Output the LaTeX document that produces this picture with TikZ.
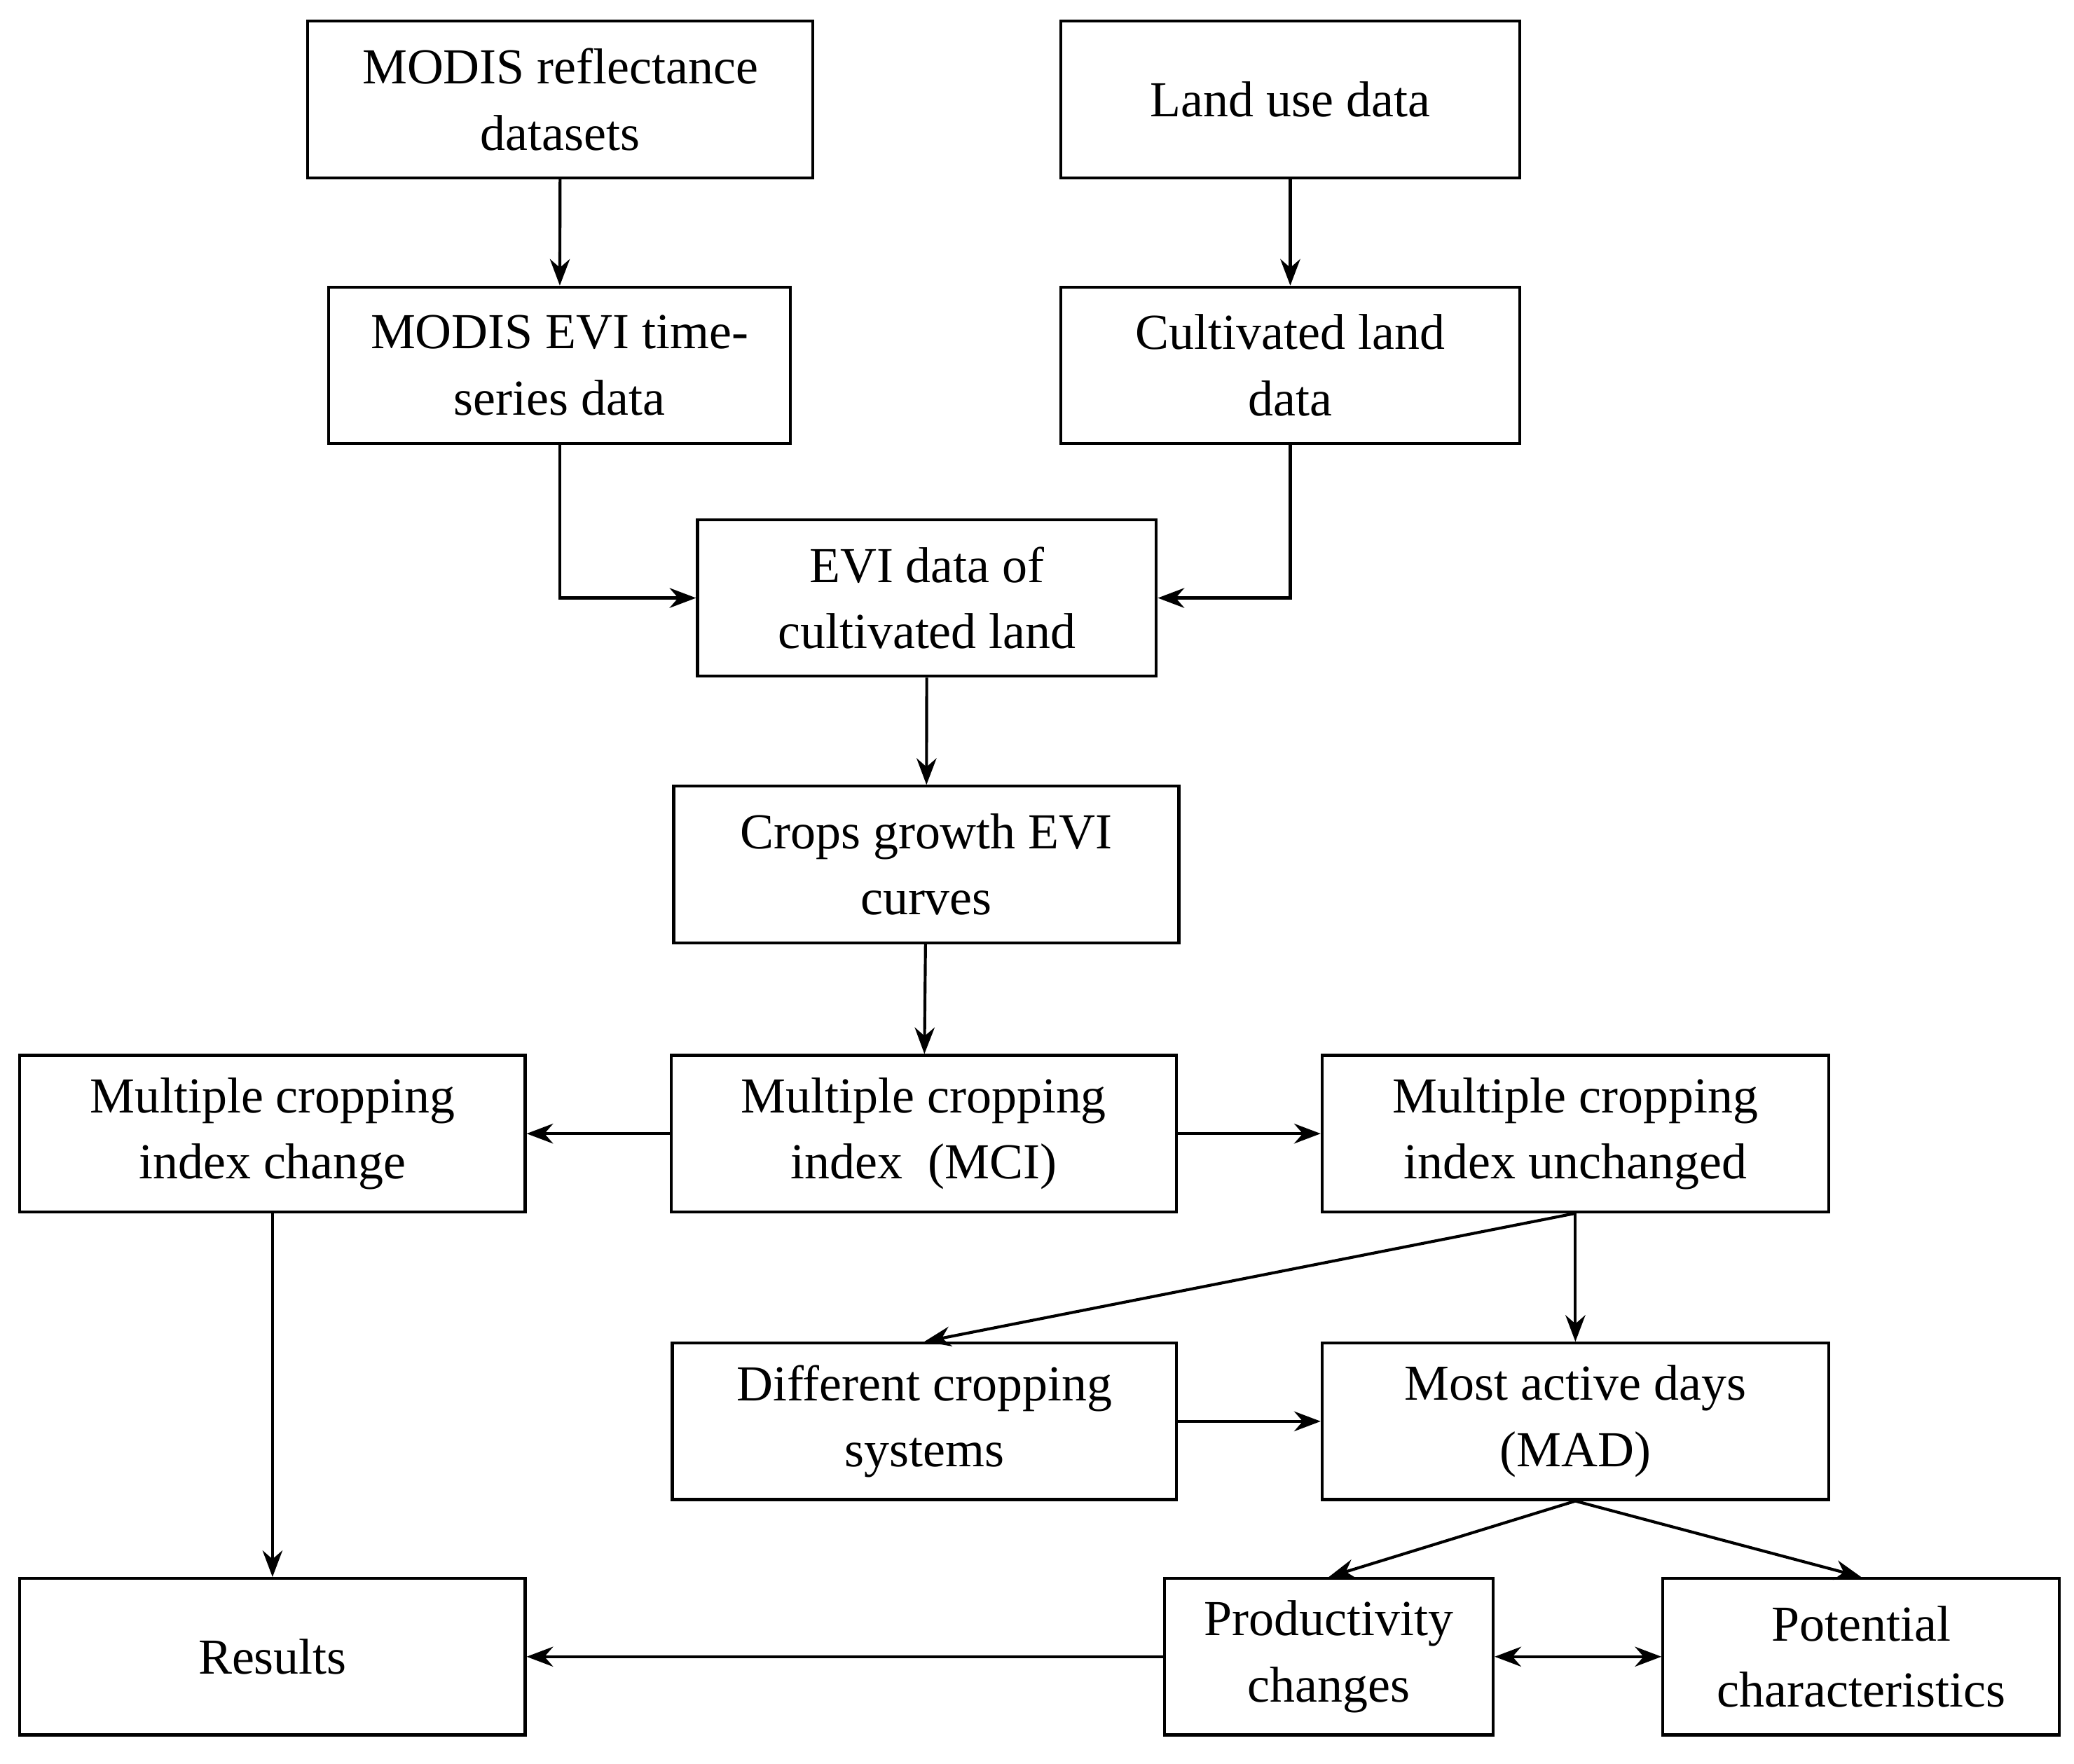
\documentclass[tikz,border=0pt]{standalone}
\usepackage{fontspec}
\setmainfont{Liberation Serif}
\usetikzlibrary{arrows.meta}
\begin{document}
\begin{tikzpicture}[x=1pt,y=-1pt,
  box/.style={draw,line width=2.2pt,minimum height=118pt,align=center,inner sep=2pt,
    font=\fontsize{38}{50}\selectfont},
  arr/.style={line width=2.2pt,-{Stealth[length=20pt,width=15pt]}},
  darr/.style={line width=2.2pt,{Stealth[length=20pt,width=15pt]}-{Stealth[length=20pt,width=15pt]}}]
\useasboundingbox (0,0) rectangle (1564,1330);
\node[box,minimum width=381pt] (A) at (422.5,75) {MODIS reflectance\\datasets};
\node[box,minimum width=346pt] (B) at (973,75) {Land use data};
\node[box,minimum width=348pt] (C) at (422,275.5) {MODIS EVI time-\\series data};
\node[box,minimum width=346pt] (D) at (973,275.5) {Cultivated land\\data};
\node[box,minimum width=346pt] (E) at (699,451) {EVI data of\\cultivated land};
\node[box,minimum width=381pt] (F) at (698.5,652) {Crops growth EVI\\curves};
\node[box,minimum width=381pt] (G) at (696.5,855) {Multiple cropping\\index\ \ (MCI)};
\node[box,minimum width=381pt] (H) at (205.5,855) {Multiple cropping\\index change};
\node[box,minimum width=382pt] (I) at (1188,855) {Multiple cropping\\index unchanged};
\node[box,minimum width=380pt] (J) at (697,1072) {Different cropping\\systems};
\node[box,minimum width=382pt] (K) at (1188,1072) {Most active days\\(MAD)};
\node[box,minimum width=381pt] (L) at (205.5,1249.5) {Results};
\node[box,minimum width=248pt] (M) at (1002,1249.5) {Productivity\\changes};
\node[box,minimum width=299pt] (N) at (1403.5,1249.5) {Potential\\characteristics};
\draw[arr] (A) -- (C);
\draw[arr] (B) -- (D);
\draw[arr] (C.south) |- (E.west);
\draw[arr] (D.south) |- (E.east);
\draw[arr] (E) -- (F);
\draw[arr] (F) -- (G);
\draw[arr] (G) -- (H);
\draw[arr] (G) -- (I);
\draw[arr] (I.south) -- (J.north);
\draw[arr] (I) -- (K);
\draw[arr] (J) -- (K);
\draw[arr] (K.south) -- (M.north);
\draw[arr] (K.south) -- (N.north);
\draw[arr] (H) -- (L);
\draw[arr] (M) -- (L);
\draw[darr] (M) -- (N);
\end{tikzpicture}
\end{document}
